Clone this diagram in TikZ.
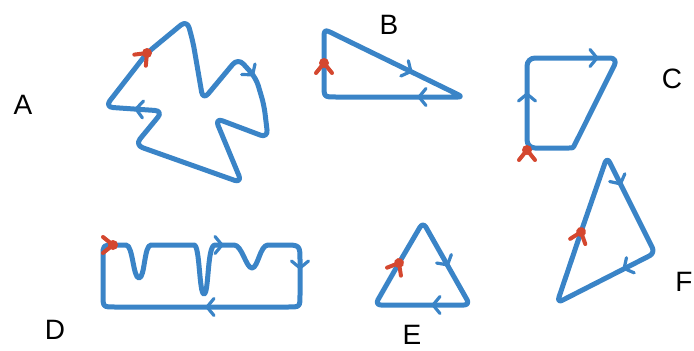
\documentclass[tikz,border=0pt]{standalone}
\usepackage{fontspec}
\setmainfont{Liberation Sans}
\definecolor{lineblue}{HTML}{3A84C7}
\definecolor{markred}{HTML}{D4472F}
\tikzset{
  shapeline/.style={draw=lineblue, line width=5pt, line join=round, line cap=round},
  lbl/.style={font=\fontsize{28}{30}\selectfont, inner sep=0pt, text=black},
  chev/.pic={\draw[lineblue, line width=3.2pt, line cap=round, line join=round] (-6,8.5)--(1,0)--(-6,-8.5);},
  redmark/.pic={\draw[markred, line width=4pt, line cap=round] (-10,8)--(0,0)--(-10,-8); \fill[markred] (0,0) circle[radius=5];}
}
\begin{document}
\begin{tikzpicture}[x=1pt,y=-1pt]
\useasboundingbox (0,0) rectangle (694,351);
% A
\draw[shapeline, rounded corners=8pt] (147,53) -- (187,20) -- (193,42) -- (203,100) -- (238,58) -- (256,78) -- (264,105) -- (268,138) -- (215,118) -- (242,183) -- (135,145) -- (163,111) -- (105,107) -- cycle;
\pic[rotate=-52] at (252,74) {chev};
\pic[rotate=176] at (137,109) {chev};
\pic[rotate=46] at (147,53) {redmark};
% B
\draw[shapeline, rounded corners=5pt] (324,60) -- (324,46) .. controls (324,29) .. (339,36.5) -- (463,97) -- (341,97) .. controls (324,97) .. (324,80) -- cycle;
\pic[rotate=-26] at (410,71) {chev};
\pic[rotate=180] at (420,97) {chev};
\pic[rotate=90] at (324,63) {redmark};
% C
\draw[shapeline, rounded corners=8pt] (527,110) -- (527,58) -- (618,58) -- (578.4,137.3) .. controls (573,148) .. (561,148) -- (527,148) -- cycle;
\pic[rotate=90] at (527,95) {chev};
\pic[rotate=0] at (596,58) {chev};
\pic[rotate=90] at (527,150) {redmark};
% D
\draw[shapeline] (103,280) -- (103,256) .. controls (103,245) .. (114,245) -- (126,245) .. controls (133,245) and (133,278) .. (139,278) .. controls (145,278) and (144,245) .. (151,245) -- (194,245) .. controls (200,245) and (199,294) .. (204,294) .. controls (209,294) and (207,245) .. (215,245) -- (234,245) .. controls (242,245) and (246,268) .. (252,268) .. controls (258,268) and (260,245) .. (268,245) -- (284,245) .. controls (300,245) .. (300,261) -- (300,295) .. controls (300,307) .. (288,307) -- (115,307) .. controls (103,307) .. (103,295) -- cycle;
\pic[rotate=0] at (221,245) {chev};
\pic[rotate=-90] at (300,267) {chev};
\pic[rotate=180] at (208,307) {chev};
\pic[rotate=0] at (113,245) {redmark};
% E
\draw[shapeline, rounded corners=6pt] (399,263) -- (423,222) -- (470,305) -- (375,305) -- cycle;
\pic[rotate=-60] at (447,264) {chev};
\pic[rotate=180] at (434,305) {chev};
\pic[rotate=60] at (399,263) {redmark};
% F
\draw[shapeline, rounded corners=6pt] (581,232) -- (607,157) -- (655,253) -- (557,303) -- cycle;
\pic[rotate=-63] at (620,183) {chev};
\pic[rotate=-153] at (625,268) {chev};
\pic[rotate=71] at (581,232) {redmark};
% labels
\node[lbl] (la) at (23,105) {A};
\node[lbl] (lb) at (389,25) {B};
\node[lbl] (lc) at (672,79) {C};
\node[lbl] (ld) at (55,330) {D};
\node[lbl] (le) at (412,335) {E};
\node[lbl] (lf) at (684,282) {F};
\end{tikzpicture}
\end{document}
